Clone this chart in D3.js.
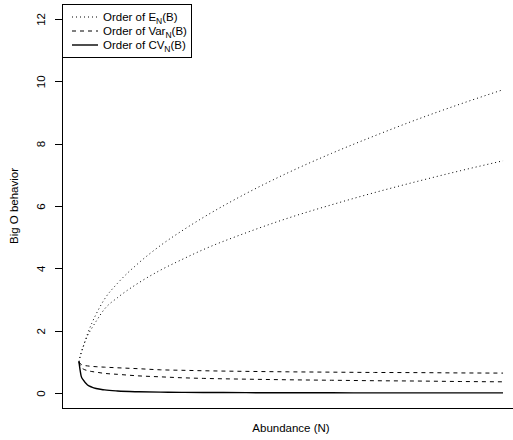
<!DOCTYPE html>
<html>
<head>
<meta charset="utf-8">
<script src="https://cdn.jsdelivr.net/npm/d3@7"></script>
<style>
  body { margin: 0; background: #fff; }
  text { font-family: "Liberation Sans", Arial, sans-serif; }
</style>
</head>
<body>
<div id="chart"></div>
<script>
// set the dimensions of the graph
var width = 513,
    height = 440

// abundance values (no ticks shown on the x axis)
var abundance = [1, 1.25, 1.5, 2, 3, 4, 5, 7, 10, 15, 20, 25, 30, 40, 50, 60, 70, 80, 90, 100]

// two curves of each kind
var eUpper   = [1, 1.15, 1.26, 1.48, 1.9, 2.24, 2.53, 3.02, 3.52, 4.18, 4.73, 5.2, 5.63, 6.4, 7.08, 7.69, 8.25, 8.78, 9.27, 9.73]
var eLower   = [1, 1.17, 1.3, 1.5, 1.84, 2.08, 2.3, 2.7, 3.06, 3.54, 3.94, 4.28, 4.6, 5.14, 5.62, 6.04, 6.43, 6.79, 7.13, 7.45]
var varUpper = [1, 0.95, 0.92, 0.89, 0.87, 0.855, 0.845, 0.83, 0.81, 0.78, 0.745, 0.73, 0.715, 0.695, 0.68, 0.67, 0.66, 0.655, 0.645, 0.64]
var varLower = [1, 0.88, 0.82, 0.77, 0.72, 0.69, 0.67, 0.63, 0.6, 0.55, 0.52, 0.49, 0.47, 0.445, 0.425, 0.41, 0.395, 0.385, 0.37, 0.36]
var cvLine   = [1, 0.75, 0.55, 0.42, 0.26, 0.19, 0.145, 0.1, 0.065, 0.04, 0.028, 0.022, 0.018, 0.012, 0.009, 0.007, 0.006, 0.005, 0.0045, 0.004]

var yTicks = [0, 2, 4, 6, 8, 10, 12]
var legendLabels = [["Order of E", "N", "(B)"], ["Order of Var", "N", "(B)"], ["Order of CV", "N", "(B)"]]

var fontSize = "11.5px"

var svg = d3.select("#chart")
  .append("svg")
    .attr("width", width)
    .attr("height", height)

// R style: 4% padding on each side of the data range
var x = d3.scaleLinear()
  .domain([1 - 0.04 * 99, 100 + 0.04 * 99])
  .range([62, 520])

var y = d3.scaleLinear()
  .domain([-0.48, 12.48])
  .range([408, 4])

// L shaped box
svg.append("path")
  .attr("d", "M" + x.range()[0] + "," + y.range()[1] + "V" + y.range()[0] + "H" + x.range()[1])
  .attr("fill", "none")
  .attr("stroke", "black")
  .attr("stroke-width", 1)
  .attr("shape-rendering", "crispEdges")

// y axis
var yAxis = svg.append("g")
  .attr("transform", "translate(62,0)")
  .call(d3.axisLeft(y).tickValues(yTicks).tickSize(7).tickSizeOuter(0))

yAxis.select(".domain").remove()
yAxis.selectAll("line").attr("shape-rendering", "crispEdges")
yAxis.selectAll("text")
  .attr("x", null)
  .attr("dy", null)
  .attr("text-anchor", "middle")
  .attr("transform", "translate(-17,0) rotate(-90)")
  .style("font-size", fontSize)
  .style("font-family", "Liberation Sans, Arial, sans-serif")

// axis titles
svg.append("text")
  .attr("x", (x.range()[0] + x.range()[1]) / 2)
  .attr("y", 432)
  .attr("text-anchor", "middle")
  .style("font-size", fontSize)
  .text("Abundance (N)")

svg.append("text")
  .attr("transform", "translate(18," + (y.range()[0] + y.range()[1]) / 2 + ") rotate(-90)")
  .attr("text-anchor", "middle")
  .style("font-size", fontSize)
  .text("Big O behavior")

// the curves
var line = d3.line()
  .x(function(d) { return x(d[0]) })
  .y(function(d) { return y(d[1]) })
  .curve(d3.curveMonotoneX)

var series = [
  { values: eUpper,   dash: "1,3", width: 1 },
  { values: eLower,   dash: "1,3", width: 1 },
  { values: varUpper, dash: "4,4", width: 1 },
  { values: varLower, dash: "4,4", width: 1 },
  { values: cvLine,   dash: null,  width: 1.4 }
]

series.forEach(function(s) {
  svg.append("path")
    .datum(d3.zip(abundance, s.values))
    .attr("d", line)
    .attr("fill", "none")
    .attr("stroke", "black")
    .attr("stroke-width", s.width)
    .attr("stroke-dasharray", s.dash)
})

// legend
var legend = svg.append("g")

legend.append("rect")
  .attr("x", 62.5)
  .attr("y", 4.5)
  .attr("width", 129)
  .attr("height", 53)
  .attr("fill", "white")
  .attr("stroke", "black")

var legendStyle = [{ dash: "1,3", width: 1 }, { dash: "4,4", width: 1 }, { dash: null, width: 1.4 }]
var legendY = [17, 31, 45]

legendLabels.forEach(function(lab, i) {
  legend.append("line")
    .attr("x1", 72).attr("x2", 98)
    .attr("y1", legendY[i]).attr("y2", legendY[i])
    .attr("stroke", "black")
    .attr("stroke-width", legendStyle[i].width)
    .attr("stroke-dasharray", legendStyle[i].dash)

  var t = legend.append("text")
    .attr("x", 103)
    .attr("y", legendY[i] + 4)
    .style("font-size", fontSize)
  t.append("tspan").text(lab[0])
  t.append("tspan").attr("dy", 3).style("font-size", "8.5px").text(lab[1])
  t.append("tspan").attr("dy", -3).text(lab[2])
})
</script>
</body>
</html>
